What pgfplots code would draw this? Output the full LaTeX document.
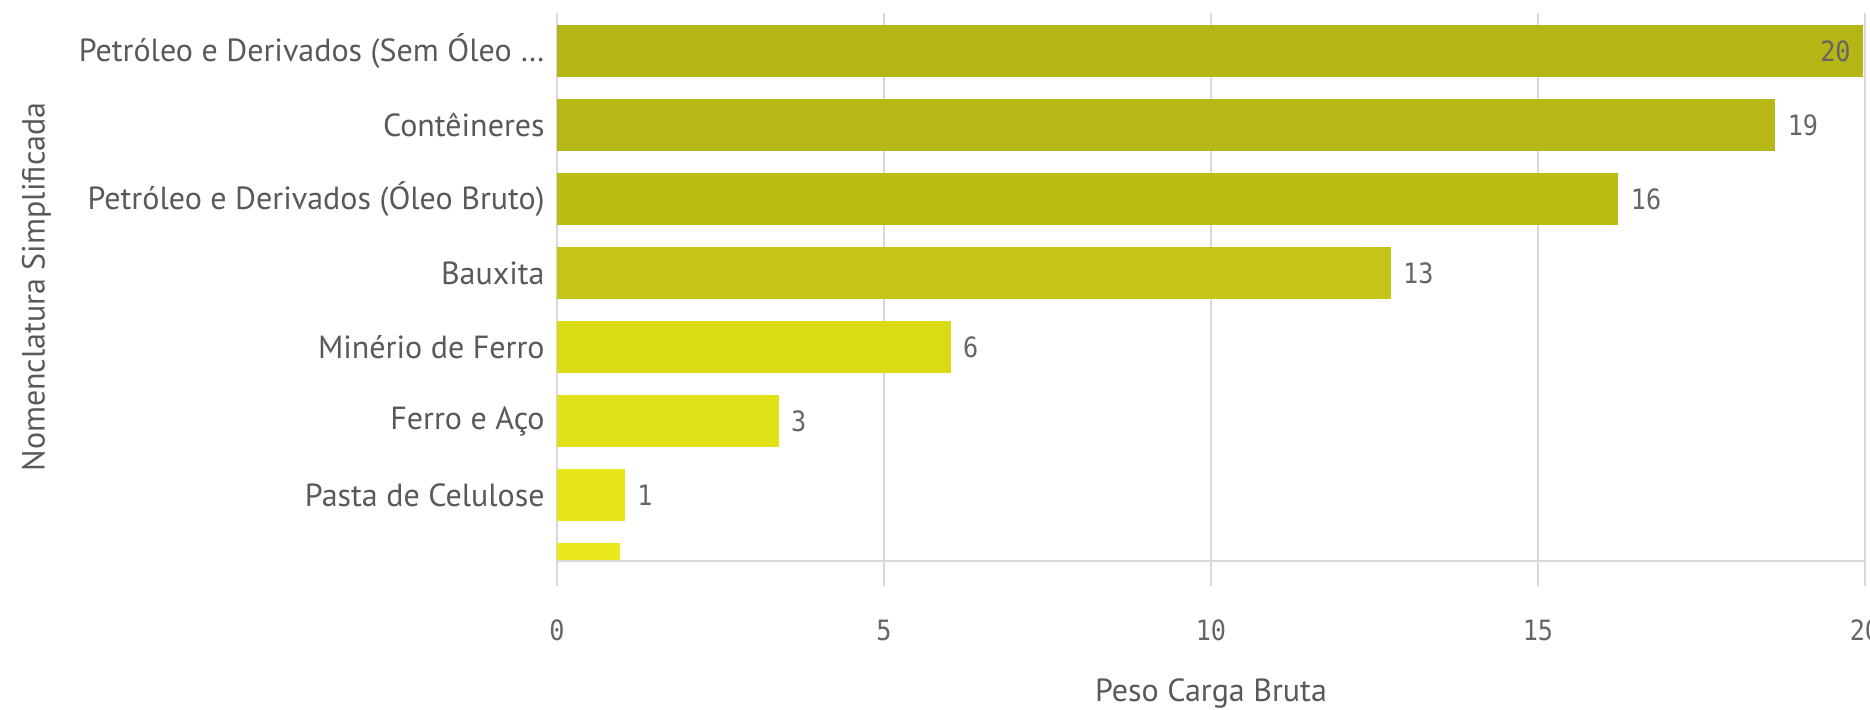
\documentclass[border=0pt]{standalone}
\usepackage{fontspec}
\setmainfont{PT Sans}
\newfontfamily\numfont{DejaVu Sans Mono}[FakeStretch=0.9]
\usepackage{pgfplots}
\pgfplotsset{compat=1.18}

\definecolor{txt}{HTML}{595959}
\definecolor{num}{HTML}{666666}
\definecolor{gridc}{HTML}{D9D9D9}
\definecolor{b1}{HTML}{B5B515}
\definecolor{b2}{HTML}{B7B715}
\definecolor{b3}{HTML}{BBBC14}
\definecolor{b4}{HTML}{C4C516}
\definecolor{b5}{HTML}{DBDB15}
\definecolor{b6}{HTML}{E0E116}
\definecolor{b7}{HTML}{E6E619}
\definecolor{b8}{HTML}{E8E81A}

\begin{document}
\begin{tikzpicture}
\begin{axis}[
    name=ax,
    scale only axis,
    width=654pt, height=274pt,
    xbar, bar width=26pt, bar shift=0pt,
    xmin=0, xmax=20,
    ymin=-0.514, ymax=6.892,
    y dir=reverse,
    xtick={0,5,10,15,20},
    ytick={0,1,2,3,4,5,6},
    yticklabels={Petróleo e Derivados (Sem Óleo \dots, Contêineres, Petróleo e Derivados (Óleo Bruto), Bauxita, Minério de Ferro, Ferro e Aço, Pasta de Celulose},
    axis line style={draw=none},
    xmajorgrids,
    grid style={draw=gridc, line width=0.75pt},
    xtick pos=bottom,
    tick align=outside,
    major tick length=12.5pt,
    xtick style={draw=gridc, line width=0.75pt},
    ytick style={draw=none},
    xticklabel style={font=\numfont\fontsize{14}{16}\selectfont, text=num, anchor=center, inner sep=0pt, yshift=-22pt},
    /pgf/number format/assume math mode=true,
    yticklabel style={font=\fontsize{16}{19}\selectfont, text=txt, anchor=east, inner sep=0pt, xshift=6.5pt},
    xlabel={Peso Carga Bruta},
    ylabel={Nomenclatura Simplificada},
    xlabel style={font=\fontsize{16}{19}\selectfont, text=txt, at={(axis description cs:0.5,0)}, anchor=center, yshift=-66pt},
    ylabel style={font=\fontsize{16}{19}\selectfont, text=txt, at={(axis description cs:-0.398,0.5)}, anchor=center},
    nodes near coords={\pgfmathprintnumber[fixed,precision=0]{\pgfplotspointmeta}},
    point meta=x,
    every node near coord/.append style={font=\numfont\fontsize{14}{16}\selectfont, text=num, anchor=west, inner sep=0pt, xshift=6pt},
]
\addplot[fill=b1, draw=none, every node near coord/.append style={anchor=east, xshift=-12pt}] coordinates {(19.97,0)};
\addplot[fill=b2, draw=none] coordinates {(18.63,1)};
\addplot[fill=b3, draw=none] coordinates {(16.23,2)};
\addplot[fill=b4, draw=none] coordinates {(12.75,3)};
\addplot[fill=b5, draw=none] coordinates {(6.02,4)};
\addplot[fill=b6, draw=none] coordinates {(3.39,5)};
\addplot[fill=b7, draw=none] coordinates {(1.04,6)};
\addplot[fill=b8, draw=none, nodes near coords={}] coordinates {(0.97,7)};
\draw[gridc, line width=1pt] (axis description cs:0,0) -- (axis description cs:1,0);
\end{axis}
\pgfresetboundingbox
\path (ax.south west) ++(-278.5pt,-74pt) rectangle ++(935pt,354.5pt);
\end{tikzpicture}
\end{document}
